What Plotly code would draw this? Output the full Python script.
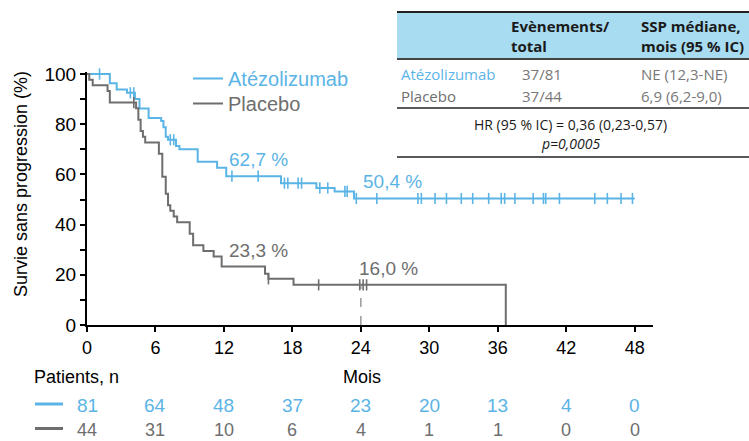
import plotly.graph_objects as go

# ---------------- data ----------------
atezo_event_t = [2.0, 2.6, 3.5, 4.2, 4.6, 5.4, 6.5, 6.7, 6.9, 7.1, 7.8, 8.1, 9.7, 11.4, 12.2, 17.0, 20.1, 21.7, 23.4]
atezo_event_s = [96.3, 93.8, 92.5, 90.0, 86.3, 82.5, 81.3, 78.8, 75.0, 73.8, 71.3, 70.0, 65.0, 62.7, 59.3, 56.5, 54.6, 53.2, 50.4]
atezo_end = 48.0
atezo_censor_t = [1.1, 3.8, 4.1, 7.3, 7.6, 12.7, 15.0, 17.3, 17.6, 18.5, 18.8, 20.4, 21.1, 22.6, 22.8, 23.6,
                  25.4, 29.0, 29.3, 30.5, 31.5, 32.8, 33.8, 35.2, 36.3, 36.6, 37.5, 39.1, 40.0, 40.2, 41.4,
                  44.5, 45.6, 46.8, 47.8]

placebo_event_t = [0.2, 0.5, 1.8, 2.0, 4.3, 4.5, 4.7, 4.9, 5.1, 6.3, 6.6, 6.9, 7.1, 7.3, 7.6, 7.9, 9.0, 9.3,
                   10.2, 11.1, 11.8, 15.6, 15.9, 18.1, 36.7]
placebo_event_s = [97.7, 95.5, 93.2, 88.6, 86.4, 81.8, 77.3, 75.0, 72.7, 68.2, 59.1, 52.3, 47.7, 45.5, 43.2, 40.9,
                   36.4, 31.8, 29.5, 27.3, 23.3, 20.4, 18.4, 16.0, 0.0]
placebo_end = 36.7
placebo_censor_t = [4.1, 15.9, 20.3, 23.9, 24.2, 24.5]

atezo_landmark = ["62,7 %", "50,4 %"]
placebo_landmark = ["23,3 %", "16,0 %"]
median_mark_month = 24

risk_months = [0, 6, 12, 18, 24, 30, 36, 42, 48]
atezo_risk = [81, 64, 48, 37, 23, 20, 13, 4, 0]
placebo_risk = [44, 31, 10, 6, 4, 1, 1, 0, 0]

x_ticks = [0, 6, 12, 18, 24, 30, 36, 42, 48]
y_ticks = [0, 10, 20, 30, 40, 50, 60, 70, 80, 90, 100]

tbl_header = ["<b>Evènements/</b><br><b>total</b>", "<b>SSP médiane,</b><br><b>mois (95 % IC)</b>"]
tbl_arms = ["Atézolizumab", "Placebo"]
tbl_events = ["37/81", "37/44"]
tbl_median = ["NE (12,3-NE)", "6,9 (6,2-9,0)"]
tbl_hr = "HR (95 % IC) = 0,36 (0,23-0,57)"
tbl_p = "<i>p=0,0005</i>"

BLUE = "#5BB4E6"
GRAY = "#6E6E6E"
FONT = "Liberation Sans, Arial, sans-serif"
TFONT = "Open Sans, Lato, sans-serif"


def step_xy(ev_t, ev_s, end_t):
    xs, ys = [0.0], [100.0]
    for t, s in zip(ev_t, ev_s):
        xs.append(t); ys.append(s)
    if end_t > xs[-1]:
        xs.append(end_t); ys.append(ys[-1])
    return xs, ys


def surv_at(ev_t, ev_s, t):
    s = 100.0
    for et, es in zip(ev_t, ev_s):
        if et <= t:
            s = es
    return s


fig = go.Figure()

for name, et, es, end, ct, col, leg in [
    ("Atézolizumab", atezo_event_t, atezo_event_s, atezo_end, atezo_censor_t, BLUE, "legend"),
    ("Placebo", placebo_event_t, placebo_event_s, placebo_end, placebo_censor_t, GRAY, "legend2"),
]:
    xs, ys = step_xy(et, es, end)
    fig.add_trace(go.Scatter(x=xs, y=ys, mode="lines", line=dict(color=col, width=2, shape="hv"),
                             name=name, cliponaxis=False, legend=leg))
    fig.add_trace(go.Scatter(x=ct, y=[surv_at(et, es, t) for t in ct], mode="markers",
                             marker=dict(symbol="line-ns", size=8, line=dict(color=col, width=1.6)),
                             showlegend=False, cliponaxis=False, hoverinfo="skip"))

# dashed line at 24 months for placebo
fig.add_trace(go.Scatter(x=[median_mark_month, median_mark_month],
                         y=[0, surv_at(placebo_event_t, placebo_event_s, median_mark_month)],
                         mode="lines", line=dict(color="#8a8a8a", width=1.3, dash="dash"),
                         showlegend=False, hoverinfo="skip"))

# landmark labels
lab_pos_a = [(12.3, 66.0), (24.0, 57.0)]
lab_pos_p = [(12.3, 29.5), (23.7, 22.6)]
for (x, y), txt in zip(lab_pos_a, atezo_landmark):
    fig.add_annotation(x=x, y=y, text=txt, showarrow=False, xanchor="left", yanchor="middle",
                       font=dict(family=FONT, size=19, color=BLUE))
for (x, y), txt in zip(lab_pos_p, placebo_landmark):
    fig.add_annotation(x=x, y=y, text=txt, showarrow=False, xanchor="left", yanchor="middle",
                       font=dict(family=FONT, size=19, color=GRAY))

# ---------------- layout ----------------
L, R, T, B = 87, 96, 72, 116
W, H = 749, 441
PH = H - T - B
PW = W - L - R


def py(pix):  # pixel y -> paper
    return (H - B - pix) / PH


def px(pix):  # pixel x -> paper
    return (pix - L) / PW


fig.update_layout(
    width=W, height=H, margin=dict(l=L, r=R, t=T, b=B),
    paper_bgcolor="white", plot_bgcolor="white",
    font=dict(family=FONT, color="black"),
    showlegend=True,
    legend=dict(x=px(188), y=py(59), xanchor="left", yanchor="top", bgcolor="rgba(0,0,0,0)",
                font=dict(family=FONT, size=20, color=BLUE), itemwidth=30),
    legend2=dict(x=px(188), y=py(84), xanchor="left", yanchor="top", bgcolor="rgba(0,0,0,0)",
                 font=dict(family=FONT, size=20, color=GRAY), itemwidth=30),
    xaxis=dict(range=[0, 49.6], tickvals=x_ticks, ticks="outside", ticklen=5, tickwidth=2,
               tickcolor="black", showline=True, linewidth=2, linecolor="black", showgrid=False,
               zeroline=False, tickfont=dict(size=18, color="black"), fixedrange=True),
    yaxis=dict(range=[0, 100.8], tickvals=y_ticks,
               ticktext=[str(v) if v % 20 == 0 else "" for v in y_ticks],
               ticks="outside", ticklen=5, tickwidth=2, tickcolor="black", showline=True,
               linewidth=2, linecolor="black", showgrid=False, zeroline=False,
               tickfont=dict(size=19, color="black"), fixedrange=True),
)

# y-axis title
fig.add_annotation(xref="paper", yref="paper", x=px(21), y=py(184), text="Survie sans progression (%)",
                   textangle=-90, showarrow=False, xanchor="center", yanchor="middle",
                   font=dict(family=FONT, size=18, color="black"))

# risk table
fig.add_annotation(xref="paper", yref="paper", x=px(32), y=py(377), text="Patients, n", showarrow=False,
                   xanchor="left", yanchor="middle", font=dict(family=FONT, size=18, color="black"))
fig.add_annotation(xref="x", yref="paper", x=24.1, y=py(377), text="Mois", showarrow=False,
                   xanchor="center", yanchor="middle", font=dict(family=FONT, size=18, color="black"))
for vals, col, ypix, fs in [(atezo_risk, BLUE, 405, 19), (placebo_risk, GRAY, 429.5, 18)]:
    for m, v in zip(risk_months, vals):
        fig.add_annotation(xref="x", yref="paper", x=m, y=py(ypix), text=str(v), showarrow=False,
                           xanchor="center", yanchor="middle", font=dict(family=FONT, size=fs, color=col))
    fig.add_shape(type="line", xref="paper", yref="paper", x0=px(35), x1=px(63), y0=py(ypix - 1),
                  y1=py(ypix - 1), line=dict(color=col, width=3))

# summary table (top right)
tx0, tx1 = px(397), px(760)
fig.add_shape(type="rect", xref="paper", yref="paper", x0=tx0, x1=tx1, y0=py(59), y1=py(12),
              fillcolor="#A8DCF0", line=dict(width=0), layer="below")
for ypix, wdt, colr in [(12, 2, "#222"), (59, 2, "#444"), (108, 1.5, "#222"), (157, 1.5, "#222")]:
    fig.add_shape(type="line", xref="paper", yref="paper", x0=tx0, x1=tx1, y0=py(ypix), y1=py(ypix),
                  line=dict(color=colr, width=wdt))

fig.add_annotation(xref="paper", yref="paper", x=px(509), y=py(36), text=tbl_header[0], showarrow=False,
                   xanchor="left", yanchor="middle", align="left",
                   font=dict(family=TFONT, size=15, color="#1a1a1a"))
fig.add_annotation(xref="paper", yref="paper", x=px(639), y=py(36), text=tbl_header[1], showarrow=False,
                   xanchor="left", yanchor="middle", align="left",
                   font=dict(family=TFONT, size=15, color="#1a1a1a"))
for arm, ev, med, ypix, col in zip(tbl_arms, tbl_events, tbl_median, [74, 96], [BLUE, GRAY]):
    fig.add_annotation(xref="paper", yref="paper", x=px(399), y=py(ypix), text=arm, showarrow=False,
                       xanchor="left", yanchor="middle", font=dict(family=TFONT, size=15, color=col))
    fig.add_annotation(xref="paper", yref="paper", x=px(542), y=py(ypix), text=ev, showarrow=False,
                       xanchor="center", yanchor="middle", font=dict(family=TFONT, size=15, color="#777"))
    fig.add_annotation(xref="paper", yref="paper", x=px(639), y=py(ypix), text=med, showarrow=False,
                       xanchor="left", yanchor="middle", font=dict(family=TFONT, size=15, color="#777"))
fig.add_annotation(xref="paper", yref="paper", x=px(570), y=py(124), text=tbl_hr, showarrow=False,
                   xanchor="center", yanchor="middle", font=dict(family=TFONT, size=14, color="#1a1a1a"))
fig.add_annotation(xref="paper", yref="paper", x=px(570), y=py(143), text=tbl_p, showarrow=False,
                   xanchor="center", yanchor="middle", font=dict(family=TFONT, size=14, color="#1a1a1a"))

fig.write_html("out.html")
